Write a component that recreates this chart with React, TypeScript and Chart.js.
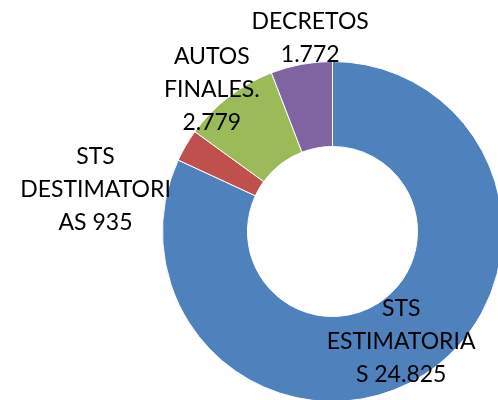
import React, { useEffect, useRef } from "react";
import { Chart, registerables } from "chart.js";

Chart.register(...registerables);

const categories: string[] = ["STS ESTIMATORIAS", "STS DESTIMATORIAS", "AUTOS FINALES.", "DECRETOS"];
const values: number[] = [24825, 935, 2779, 1772];
const valueLabels: string[] = ["24.825", "935", "2.779", "1.772"];
const labelLines: string[][] = [
  ["STS", "ESTIMATORIA", "S 24.825"],
  ["STS", "DESTIMATORI", "AS 935"],
  ["AUTOS", "FINALES.", "2.779"],
  ["DECRETOS", "1.772"],
];
const colors: string[] = ["#4F81BD", "#C0504D", "#9BBB59", "#8064A2"];

// label offsets from each slice's centroid (placement style, not data)
const labelOffsets: [number, number][] = [
  [0, 2],
  [-127, 22],
  [-43, -41],
  [1, -68.5],
];

const labelPlugin = {
  id: "sliceLabels",
  afterDraw(chart: any) {
    const ctx = chart.ctx;
    const meta = chart.getDatasetMeta(0);
    ctx.save();
    ctx.font = "23px Lato";
    ctx.fillStyle = "#000000";
    ctx.textAlign = "center";
    ctx.textBaseline = "alphabetic";
    const lineH = 33;
    const capHalf = 8;
    meta.data.forEach((arc: any, i: number) => {
      const p = arc.getProps(["x", "y", "startAngle", "endAngle", "innerRadius", "outerRadius"], true);
      const mid = (p.startAngle + p.endAngle) / 2;
      const r = (p.innerRadius + p.outerRadius) / 2;
      const cx = p.x + Math.cos(mid) * r + labelOffsets[i][0];
      const cy = p.y + Math.sin(mid) * r + labelOffsets[i][1];
      const lines = labelLines[i];
      const n = lines.length;
      lines.forEach((ln, j) => {
        const y = cy + (j - (n - 1) / 2) * lineH + capHalf;
        ctx.fillText(ln, cx, y);
      });
    });
    ctx.restore();
  },
};

export default function App() {
  const ref = useRef<HTMLCanvasElement | null>(null);
  useEffect(() => {
    if (!ref.current) return;
    const chart = new Chart(ref.current, {
      type: "doughnut",
      data: {
        labels: categories,
        datasets: [
          {
            data: values,
            backgroundColor: colors,
            borderColor: "#FFFFFF",
            borderWidth: 1,
            hoverOffset: 0,
            offset: 0,
          },
        ],
      },
      options: {
        responsive: false,
        animation: false,
        cutout: "50%",
        rotation: 0,
        layout: { padding: { left: 162, top: 61, right: 17, bottom: 18 } },
        plugins: {
          legend: { display: false },
          tooltip: { enabled: false },
        },
      },
      plugins: [labelPlugin],
    });
    return () => chart.destroy();
  }, []);
  return (
    <div style={{ position: "fixed", left: 0, top: 0, width: 498, height: 400, overflow: "hidden", background: "#fff" }}>
      <canvas ref={ref} width={520} height={420} style={{ display: "block" }} />
    </div>
  );
}
